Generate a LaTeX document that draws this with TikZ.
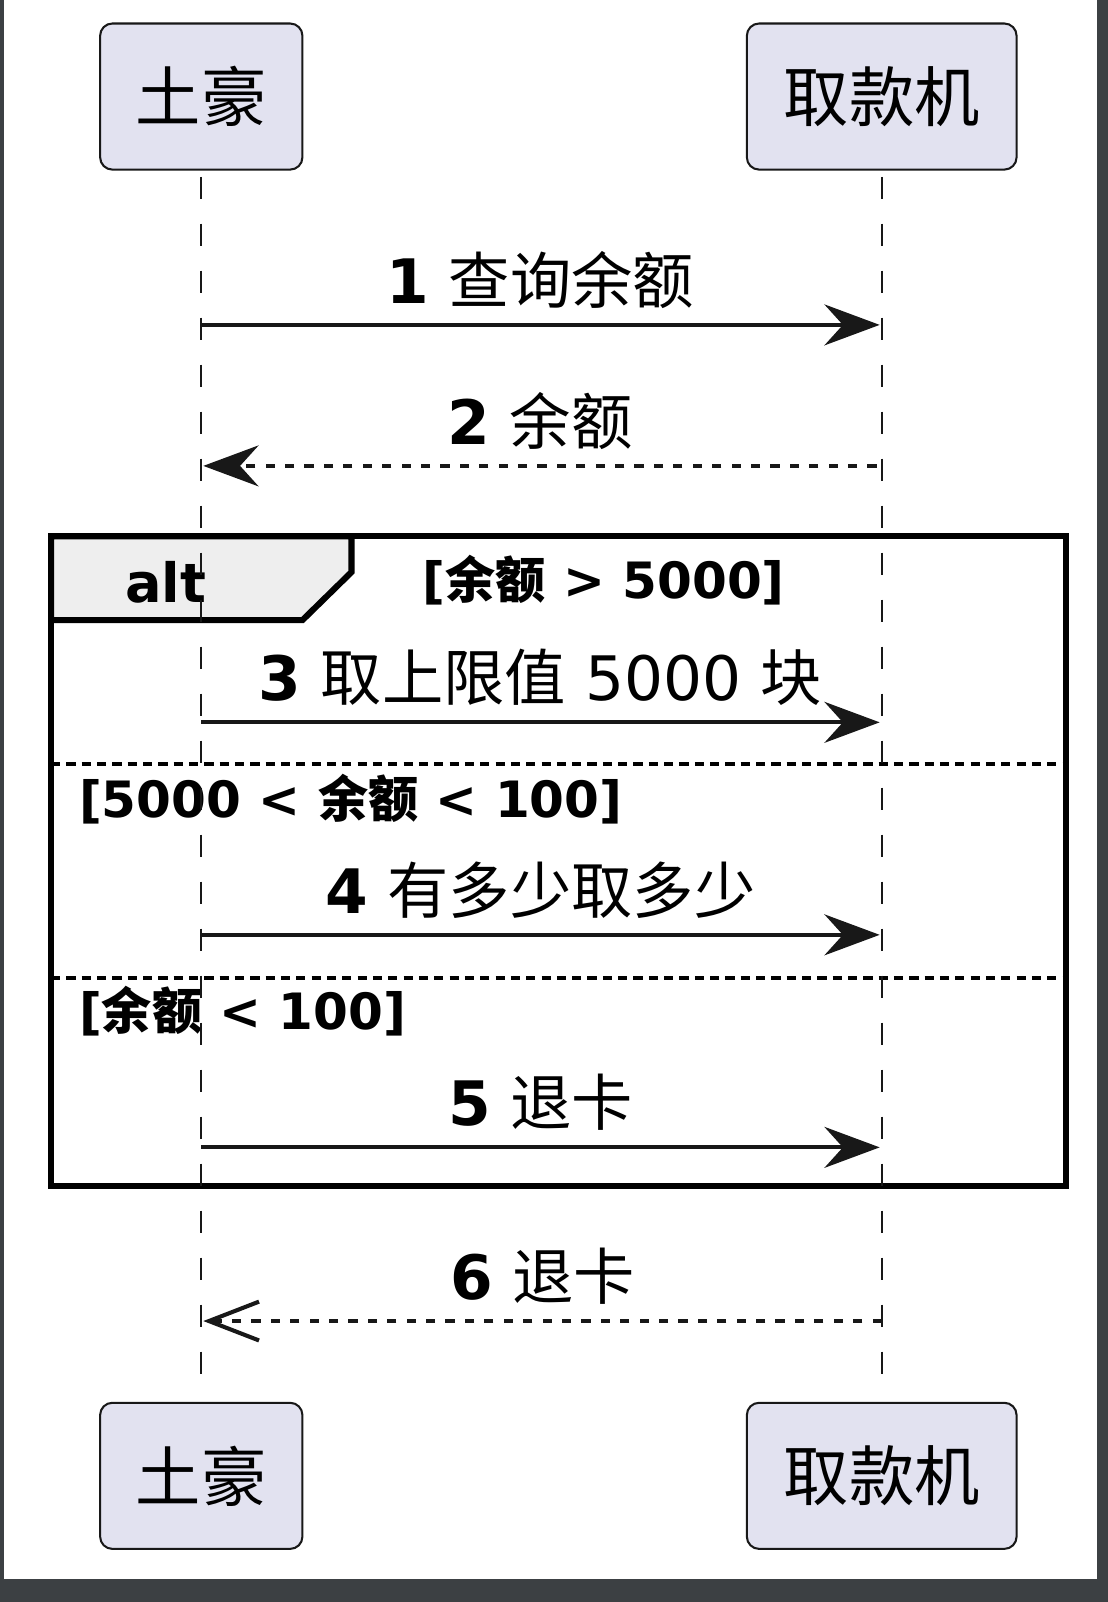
\documentclass[tikz,border=0pt]{standalone}
\usepackage{fontspec}
\setmainfont{DejaVu Sans}
\newfontfamily\cjk{Noto Sans CJK SC}
\usetikzlibrary{arrows.meta}
\definecolor{partfill}{HTML}{E2E2F0}
\definecolor{ink}{HTML}{181818}
\definecolor{tabfill}{HTML}{EEEEEE}
\definecolor{outerbg}{HTML}{3C4043}
\begin{document}
\begin{tikzpicture}[x=0.5pt,y=-0.5pt,
  part/.style={draw=ink, fill=partfill, line width=1pt, rounded corners=6pt,
    inner sep=0pt, font=\cjk\fontsize{32}{38}\selectfont, minimum height=71.5pt},
  lifeline/.style={draw=ink, line width=1pt, dash pattern=on 11pt off 12pt},
  msg/.style={draw=ink, line width=2pt, -{Stealth[length=27pt,width=20pt,inset=9pt]}},
  reply/.style={msg, dash pattern=on 4.5pt off 5pt},
  openreply/.style={draw=ink, line width=2pt, dash pattern=on 4.5pt off 5pt,
    -{Straight Barb[length=24.5pt,width=19pt]}},
  msglabel/.style={anchor=base, yshift=10.5pt, inner sep=0pt, font=\fontsize{30}{36}\selectfont},
  cond/.style={inner sep=0pt, font=\bfseries\fontsize{24.5}{28}\selectfont},
  framebox/.style={draw=black, line width=3pt},
  separator/.style={draw=black, line width=2pt, dash pattern=on 4.5pt off 3pt}
]
\useasboundingbox (0,0) rectangle (1084,1568);
\fill[outerbg] (0,0) rectangle (1084,1568);
\fill[white] (4,0) rectangle (1074,1545);

% participants
\node[part, minimum width=99pt] (p1t) at (197,94.5) {土豪};
\node[part, minimum width=132pt] (p2t) at (863,94.5) {取款机};
\node[part, minimum width=99pt] (p1b) at (197,1444.5) {土豪};
\node[part, minimum width=132pt] (p2b) at (863,1444.5) {取款机};

% alt frame
\filldraw[fill=tabfill, framebox] (50,525) -- (344,525) -- (344,560) -- (296,607) -- (50,607) -- cycle;
\draw[framebox] (50,525) rectangle (1043,1161);
\draw[separator] (50,748) -- (1043,748);
\draw[separator] (50,957) -- (1043,957);
\node[anchor=base, inner sep=0pt, font=\bfseries\fontsize{26.5}{30}\selectfont] (alt) at (162,590) {alt};
\node[cond, anchor=base] (c1) at (591,586) {[{\cjk 余额} > 5000]};
\node[cond, anchor=base west] (c2) at (77,800) {[5000 < {\cjk 余额} < 100]};
\node[cond, anchor=base west] (c3) at (77,1008) {[{\cjk 余额} < 100]};

% lifelines
\draw[lifeline] ([yshift=-3pt]p1t.south) -- ([yshift=3pt]p1b.north);
\draw[lifeline] ([yshift=-3pt]p2t.south) -- ([yshift=3pt]p2b.north);

% message end points
\coordinate (a1) at (197,318);  \coordinate (b1) at (861,318);
\coordinate (a2) at (199,456);  \coordinate (b2) at (858,456);
\coordinate (a3) at (197,707);  \coordinate (b3) at (861,707);
\coordinate (a4) at (197,915);  \coordinate (b4) at (861,915);
\coordinate (a5) at (197,1123); \coordinate (b5) at (861,1123);
\coordinate (a6) at (199,1293); \coordinate (b6) at (863,1293);

\draw[msg] (a1) -- node[msglabel] (l1) {{\bfseries 1} {\cjk 查询余额}} (b1);
\draw[reply] (b2) -- node[msglabel] (l2) {{\bfseries 2} {\cjk 余额}} (a2);
\draw[msg] (a3) -- node[msglabel] (l3) {{\bfseries 3} {\cjk 取上限值} 5000 {\cjk 块}} (b3);
\draw[msg] (a4) -- node[msglabel] (l4) {{\bfseries 4} {\cjk 有多少取多少}} (b4);
\draw[msg] (a5) -- node[msglabel] (l5) {{\bfseries 5} {\cjk 退卡}} (b5);
\draw[openreply] (b6) -- node[msglabel] (l6) {{\bfseries 6} {\cjk 退卡}} (a6);
\end{tikzpicture}
\end{document}
